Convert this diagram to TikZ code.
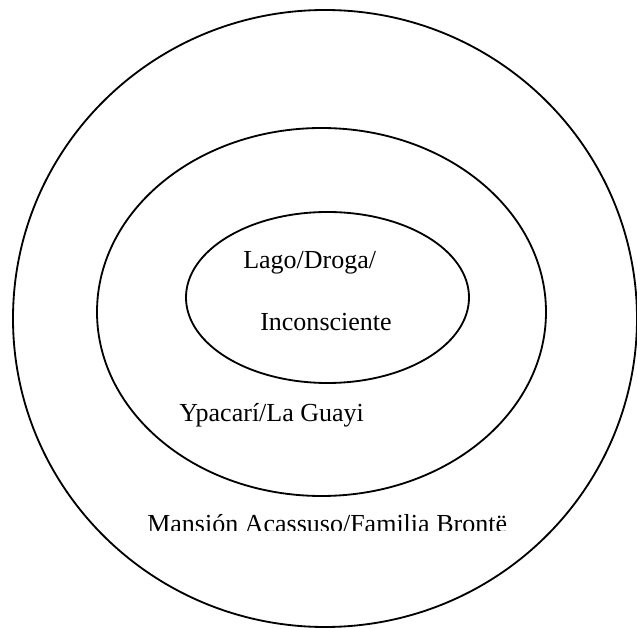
\documentclass[tikz,border=0pt]{standalone}
\usepackage{fontspec}
\setmainfont{Liberation Serif}
\usetikzlibrary{shapes.geometric}
\tikzset{ring/.style={draw, ellipse, line width=1.3pt, inner sep=0pt},
  lbl/.style={anchor=base west, inner sep=0pt, font=\fontsize{18.5}{22}\selectfont}}
\begin{document}
\begin{tikzpicture}
\useasboundingbox (0,0) rectangle (15.925,15.725);
\node [ring, minimum width=15.6cm, minimum height=15.425cm] (outer) at (8.125,7.7625) {};
\node [ring, minimum width=11.225cm, minimum height=9.2cm] (middle) at (8.0375,7.925) {};
\node [ring, minimum width=7.075cm, minimum height=4.275cm] (inner) at (8.1875,8.2875) {};
\node [lbl] (lago) at (6.075,9.0) {Lago/Droga/};
\node [lbl] (incons) at (6.5,7.45) {Inconsciente};
\node [lbl] (ypa) at (4.475,5.175) {Ypacarí/La Guayi};
\begin{scope}
\clip (0,2.45) rectangle (15.925,15.725);
\node [lbl] (mansion) at (3.675,2.4) {Mansión Acassuso/Familia Brontë};
\end{scope}
\end{tikzpicture}
\end{document}
